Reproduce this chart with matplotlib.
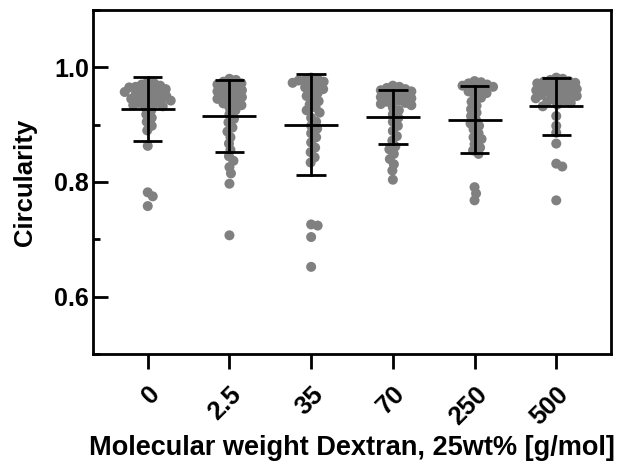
import numpy as np
import matplotlib
matplotlib.use("Agg")
import matplotlib.pyplot as plt
from matplotlib.ticker import MultipleLocator

plt.rcParams['font.family'] = ['Liberation Sans', 'DejaVu Sans']
plt.rcParams['font.weight'] = 'bold'

# categories (molecular weight of dextran)
labels = ['0', '2.5', '35', '70', '250', '500']

# circularity of each cell
circ_0 = [0.975, 0.972, 0.970, 0.968, 0.966, 0.965, 0.963, 0.962, 0.960, 0.958, 0.957, 0.955,
          0.953, 0.952, 0.950, 0.948, 0.947, 0.945, 0.943, 0.942, 0.940, 0.938, 0.936, 0.934,
          0.932, 0.930, 0.925, 0.918, 0.912, 0.905, 0.898, 0.890, 0.863, 0.782, 0.775, 0.758]
circ_2p5 = [0.980, 0.978, 0.975, 0.972, 0.970, 0.967, 0.965, 0.962, 0.960, 0.958, 0.955, 0.952,
            0.950, 0.948, 0.945, 0.942, 0.940, 0.937, 0.934, 0.930, 0.925, 0.918, 0.910, 0.904,
            0.895, 0.888, 0.878, 0.867, 0.856, 0.845, 0.837, 0.826, 0.815, 0.797, 0.707]
circ_35 = [0.982, 0.980, 0.978, 0.977, 0.975, 0.973, 0.970, 0.968, 0.965, 0.962, 0.958, 0.955,
           0.950, 0.945, 0.941, 0.935, 0.930, 0.925, 0.921, 0.912, 0.905, 0.898, 0.893, 0.885,
           0.878, 0.869, 0.860, 0.852, 0.843, 0.834, 0.726, 0.724, 0.704, 0.652]
circ_70 = [0.968, 0.966, 0.964, 0.962, 0.960, 0.958, 0.956, 0.954, 0.952, 0.950, 0.948, 0.946,
           0.944, 0.942, 0.940, 0.938, 0.936, 0.934, 0.930, 0.925, 0.918, 0.912, 0.905, 0.898,
           0.889, 0.880, 0.872, 0.862, 0.857, 0.849, 0.840, 0.831, 0.820, 0.804]
circ_250 = [0.976, 0.974, 0.972, 0.970, 0.968, 0.966, 0.963, 0.961, 0.958, 0.955, 0.950, 0.947,
            0.940, 0.933, 0.927, 0.921, 0.915, 0.908, 0.902, 0.898, 0.892, 0.885, 0.878, 0.875,
            0.866, 0.860, 0.855, 0.849, 0.791, 0.780, 0.768]
circ_500 = [0.982, 0.980, 0.978, 0.976, 0.975, 0.973, 0.972, 0.970, 0.968, 0.967, 0.965, 0.963,
            0.962, 0.960, 0.958, 0.957, 0.955, 0.953, 0.952, 0.950, 0.948, 0.946, 0.944, 0.942,
            0.940, 0.938, 0.935, 0.932, 0.915, 0.898, 0.886, 0.867, 0.832, 0.827, 0.768]
groups = [circ_0, circ_2p5, circ_35, circ_70, circ_250, circ_500]

# mean and SD as drawn in the figure
means = [0.928, 0.915, 0.900, 0.913, 0.909, 0.932]
sds = [0.056, 0.063, 0.088, 0.047, 0.058, 0.050]

W, H = 626, 468
fig = plt.figure(figsize=(W / 100, H / 100), dpi=100)
ax = fig.add_axes([93 / W, 1 - 354 / H, (611 - 93) / W, (354 - 10) / H])
ax.set_xlim(-0.67, 5.67)
ax.set_ylim(0.5, 1.1)

# px per data unit, used to lay out the swarm
px_x = (611 - 93) / (5.67 + 0.67)
px_y = (354 - 10) / 0.6


def swarm(vals, min_d=6.4):
    placed = []
    offs = np.zeros(len(vals))
    order = np.argsort(vals)[::-1]
    cands = [0]
    for k in range(1, 80):
        cands += [k * 0.5, -k * 0.5]
    for i in order:
        y = vals[i] * px_y
        for c in cands:
            if all((c - px) ** 2 + (y - py) ** 2 >= min_d ** 2 for px, py in placed):
                break
        placed.append((c, y))
        offs[i] = c
    return offs / px_x


grey = '#808080'
for i, vals in enumerate(groups):
    vals = np.array(vals)
    ax.scatter(i + swarm(vals), vals, s=52, color=grey, edgecolors='none', zorder=2)
    m, s = means[i], sds[i]
    ax.plot([i - 0.33, i + 0.33], [m, m], color='black', lw=2, zorder=3, solid_capstyle='butt')
    ax.plot([i, i], [m - s, m + s], color='black', lw=2, zorder=3)
    for e in (m - s, m + s):
        ax.plot([i - 0.18, i + 0.18], [e, e], color='black', lw=2, zorder=3, solid_capstyle='butt')

for sp in ax.spines.values():
    sp.set_linewidth(2)

ax.set_yticks([0.6, 0.8, 1.0])
ax.yaxis.set_minor_locator(MultipleLocator(0.1))
ax.tick_params(axis='y', which='major', direction='in', length=10.5, width=2, pad=3, labelsize=18)
ax.tick_params(axis='y', which='minor', direction='in', length=5, width=2)
ax.tick_params(axis='x', which='major', direction='out', length=11, width=2, pad=9, labelsize=18.5)
ax.set_xticks(range(len(labels)))
ax.set_xticklabels(labels, rotation=45, ha='right', rotation_mode='anchor', fontweight='bold')
for t in ax.get_yticklabels():
    t.set_fontweight('bold')

ax.set_ylabel('Circularity', fontsize=18.5, fontweight='bold', labelpad=12)
ax.set_xlabel('Molecular weight Dextran, 25wt% [g/mol]', fontsize=19.5, fontweight='bold', labelpad=4)

fig.savefig('out.png', dpi=100)
